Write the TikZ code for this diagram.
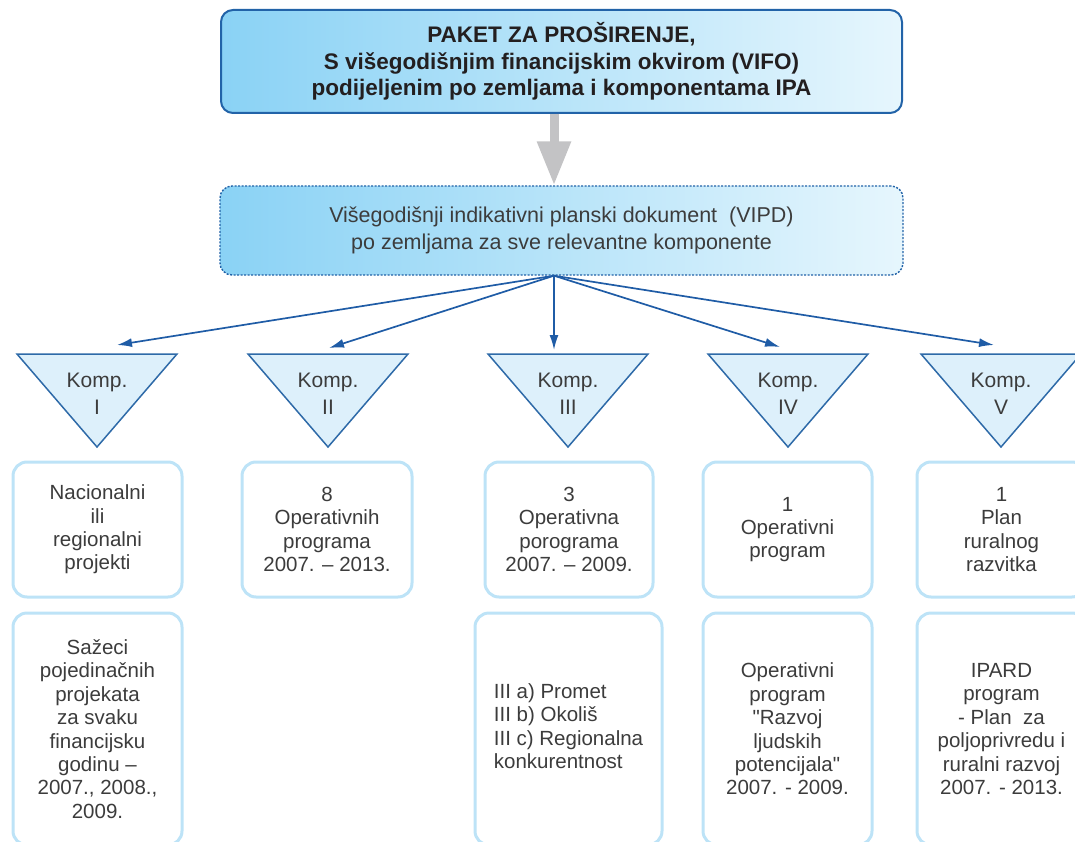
\documentclass[tikz,border=0pt]{standalone}
\usepackage{fontspec}
\setmainfont{Liberation Sans}
\newfontfamily\qfont{Liberation Sans}[Ligatures=TeXOff]
\usetikzlibrary{arrows.meta,calc}
\definecolor{topL}{HTML}{8AD2F5}
\definecolor{topR}{HTML}{E6F6FD}
\definecolor{dblue}{HTML}{2263A8}
\definecolor{abl}{HTML}{1F5CA6}
\definecolor{trif}{HTML}{DDF0FB}
\definecolor{tril}{HTML}{2E6AA8}
\definecolor{boxl}{HTML}{BDE3F7}
\definecolor{txt}{HTML}{3C3C3C}
\definecolor{ttxt}{HTML}{231F20}
\definecolor{garr}{HTML}{C3C3C5}
\begin{document}
\begin{tikzpicture}[x=1pt,y=-1pt,
  topbox/.style={rounded corners=12pt, draw=dblue, line width=2pt, left color=topL, right color=topR,
    minimum width=681pt, minimum height=103pt, align=center, inner sep=0pt,
    font=\fontsize{22.5}{26.5}\selectfont\bfseries, text=ttxt},
  vipdbox/.style={rounded corners=12pt, draw=dblue, line width=1.4pt, dash pattern=on 2pt off 1.5pt,
    left color=topL, right color=topR, minimum width=683pt, minimum height=89pt, align=center,
    inner sep=0pt, font=\fontsize{21.5}{27}\selectfont, text=txt},
  rbox/.style={draw=boxl, line width=3pt, rounded corners=14pt, fill=white, align=center,
    inner sep=0pt, font=\fontsize{20.5}{23.4}\selectfont, text=txt},
  tri/.style={draw=tril, line width=1.5pt, fill=trif, line join=miter},
  ktext/.style={align=center, inner sep=0pt, font=\fontsize{21}{27}\selectfont, text=txt},
  barrow/.style={draw=abl, line width=1.7pt, -{Latex[length=15pt,width=9pt]}},
  grarrow/.style={draw=garr, line width=9pt, -{Triangle[length=44pt,width=32pt]}}
]
\useasboundingbox (0,0) rectangle (1075,842);
\clip (0,0) rectangle (1075,842);

% top boxes
\node[topbox] (top) at (561.5,61.5) {PAKET ZA PROŠIRENJE,\\S višegodišnjim financijskim okvirom (VIFO)\\podijeljenim po zemljama i komponentama IPA};
\node[vipdbox] (vipd) at (561.5,230.5) {Višegodišnji indikativni planski dokument\ \ (VIPD)\\po zemljama za sve relevantne komponente};

% arrow tip coordinates
\coordinate (a1) at (117,345);
\coordinate (a2) at (329,348);
\coordinate (a3) at (554,350);
\coordinate (a4) at (780,347);
\coordinate (a5) at (994,345);

\draw[grarrow] (top.south -| a3) -- (vipd.north -| a3);

\foreach \i in {1,...,5}{
  \draw[barrow] (vipd.south -| a3) -- (a\i);
}

% triangles
\foreach \n/\cx/\r in {1/97/I,2/328/II,3/568/III,4/788/IV,5/1001/V}{
  \draw[tri] (\cx-80,354) -- (\cx+80,354) -- (\cx,447) -- cycle;
  \node[ktext] (k\n) at (\cx,393.5) {Komp.\\\r};
}

% first row boxes
\node[rbox, minimum width=169pt, minimum height=135pt] (r1) at (97.5,529.5) {Nacionalni\\ili\\regionalni\\projekti};
\node[rbox, minimum width=170pt, minimum height=135pt] (r2) at (327,529.5) {8\\Operativnih\\programa\\2007. – 2013.};
\node[rbox, minimum width=168pt, minimum height=135pt] (r3) at (569,529.5) {3\\Operativna\\porograma\\2007. – 2009.};
\node[rbox, minimum width=169pt, minimum height=135pt] (r4) at (787.5,529.5) {1\\Operativni\\program};
\node[rbox, minimum width=169pt, minimum height=135pt] (r5) at (1001.5,529.5) {1\\Plan\\ruralnog\\razvitka};

% second row boxes
\node[rbox, minimum width=169pt, minimum height=232pt] (s1) at (97.5,729) {Sažeci\\pojedinačnih\\projekata\\za svaku\\financijsku\\godinu –\\2007., 2008.,\\2009.};
\node[rbox, minimum width=187pt, minimum height=232pt] (s3) at (568.5,729) {\begin{tabular}{@{}l@{}}III a) Promet\\III b) Okoliš\\III c) Regionalna\\konkurentnost\end{tabular}};
\node[rbox, minimum width=169pt, minimum height=232pt] (s4) at (787.5,729) {Operativni\\program\\{\qfont"}Razvoj\\ljudskih\\potencijala{\qfont"}\\2007. - 2009.};
\node[rbox, minimum width=169pt, minimum height=232pt] (s5) at (1001.5,729) {IPARD\\program\\- Plan\ \ za\\poljoprivredu i\\ruralni razvoj\\2007. - 2013.};
\end{tikzpicture}
\end{document}
